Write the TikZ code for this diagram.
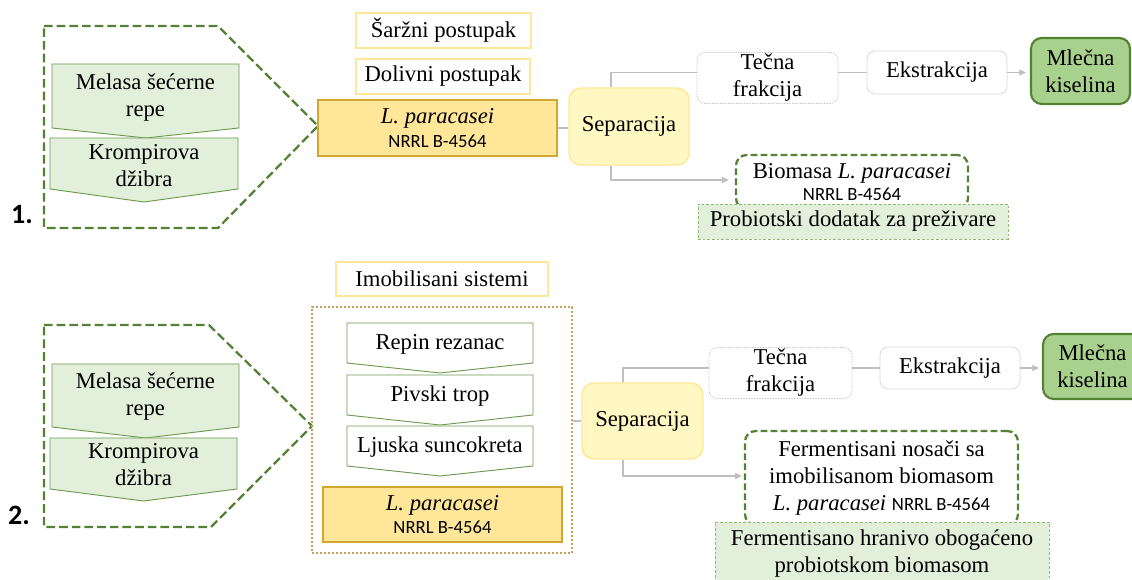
\documentclass[tikz,border=0pt]{standalone}
\usepackage{fontspec}
\setmainfont{Liberation Serif}
\newfontfamily\carlitofont{Carlito}
\usetikzlibrary{arrows.meta}
\definecolor{dkgreen}{HTML}{548235}
\definecolor{chevfill}{HTML}{E2EFDA}
\definecolor{chevline}{HTML}{6E9A50}
\definecolor{goldfill}{HTML}{FFE699}
\definecolor{goldline}{HTML}{D0A830}
\definecolor{paleyel}{HTML}{FFE699}
\definecolor{sepfill}{HTML}{FFF8C2}
\definecolor{connc}{HTML}{BFBFBF}
\definecolor{dotgray}{HTML}{C4C4C4}
\definecolor{ekline}{HTML}{D9D9D9}
\definecolor{mlfill}{HTML}{A9D18E}
\definecolor{probline}{HTML}{8DBA6E}
\definecolor{contline}{HTML}{C4A25E}
\newcommand{\nrrl}{{\carlitofont\fontsize{14}{16}\selectfont NRRL B-4564}}
\tikzset{
  every node/.style={font=\fontsize{17}{20.25}\selectfont, inner sep=0pt, align=center},
  pent/.style={draw=dkgreen, line width=1.7pt, dash pattern=on 6.5pt off 3pt},
  chevg/.style={draw=chevline, line width=0.7pt, fill=chevfill},
  chevw/.style={draw=chevline, line width=0.7pt, fill=white},
  ybox/.style={draw=paleyel, line width=0.9pt, fill=white},
  gbox/.style={draw=goldline, line width=0.8pt, fill=goldfill},
  sepbox/.style={draw=paleyel, line width=1.1pt, fill=sepfill, rounded corners=9pt},
  tecbox/.style={draw=dotgray, line width=0.6pt, dash pattern=on 1pt off 1pt, fill=white, rounded corners=6pt},
  ekbox/.style={draw=ekline, line width=0.6pt, fill=white, rounded corners=6pt},
  mlbox/.style={draw=dkgreen, line width=1.6pt, fill=mlfill, rounded corners=8pt},
  biobox/.style={draw=dkgreen, line width=1.7pt, dash pattern=on 5pt off 2.5pt, fill=white, rounded corners=8pt},
  probbox/.style={draw=probline, line width=0.6pt, dash pattern=on 2pt off 1.5pt, fill=chevfill},
  contbox/.style={draw=contline, line width=0.8pt, dash pattern=on 1.5pt off 1.5pt},
  conn/.style={draw=connc, line width=1pt},
  arr/.style={conn, -{Triangle[length=5pt,width=4.5pt]}},
  numlbl/.style={font=\carlitofont\bfseries\fontsize{21}{24}\selectfont},
}
\begin{document}
\begin{tikzpicture}[x=0.75pt,y=-0.75pt]
\clip (0,0) rectangle (1132,580);
\fill[white] (0,0) rectangle (1132,580);

% ---------------- Section 1 ----------------
\draw[pent] (44,26) -- (218,26) -- (318,126) -- (218,228) -- (44,228) -- cycle;
\draw[chevg] (52,64) -- (239,64) -- (239,128) -- (145.5,138) -- (52,128) -- cycle;
\node (mel1) at (145.5,98) {Melasa šećerne\\repe};
\draw[chevg] (50,138) -- (238,138) -- (238,189) -- (144,202) -- (50,189) -- cycle;
\node (kro1) at (144,166) {Krompirova\\džibra};
\node[numlbl] (n1) at (22,215) {1.};

\node[ybox, minimum width=131.25pt, minimum height=26.25pt] (sarz) at (443.5,30.5) {Šaržni postupak};
\node[ybox, minimum width=130.5pt, minimum height=26.25pt] (doliv) at (443,76.5) {Dolivni postupak};
\node[gbox, minimum width=179.25pt, minimum height=42pt, font=\fontsize{17}{17.5}\selectfont] (lp1) at (437.5,128) {\textit{L. paracasei}\\\nrrl};
\node[sepbox, minimum width=90pt, minimum height=57.75pt] (sep1) at (629,126.5) {Separacija};
\node[tecbox, minimum width=105.75pt, minimum height=38.25pt] (tec1) at (767.5,78) {Tečna\\frakcija};
\node[ekbox, minimum width=105pt, minimum height=32.25pt] (ek1) at (937,72.5) {Ekstrakcija};
\node[mlbox, minimum width=74.25pt, minimum height=49.5pt] (ml1) at (1080.5,71) {Mlečna\\kiselina};
\node[biobox, minimum width=174pt, minimum height=40.5pt, font=\fontsize{17}{16.5}\selectfont] (bio1) at (852,182) {Biomasa \textit{L. paracasei}\\\nrrl};
\node[probbox, minimum width=232.5pt, minimum height=26.25pt] (prob1) at (853,221.5) {Probiotski dodatak za preživare};

\draw[conn] (lp1.east) -- (lp1.east -| sep1.west);
\draw[conn] ([xshift=-13.5pt]sep1.north) |- (ek1.west -| tec1.west);
\draw[conn] (ek1.west -| tec1.east) -- (ek1.west);
\draw[arr] (ek1.east) -- ([xshift=-3pt]ml1.west |- ek1.east);
\draw[arr] ([xshift=-13.5pt]sep1.south) |- ([xshift=-4.5pt]bio1.west |- 0,180);

% ---------------- Section 2 ----------------
\draw[pent] (44,325) -- (209,325) -- (312,426) -- (211,527) -- (44,527) -- cycle;
\draw[chevg] (52,364) -- (239,364) -- (239,427) -- (145.5,438) -- (52,427) -- cycle;
\node (mel2) at (145.5,397) {Melasa šećerne\\repe};
\draw[chevg] (50,438) -- (237,438) -- (237,489) -- (143.5,501) -- (50,489) -- cycle;
\node (kro2) at (143.5,465) {Krompirova\\džibra};
\node[numlbl] (n2) at (19,515) {2.};

\node[ybox, minimum width=159pt, minimum height=25.5pt] (imob) at (442,279) {Imobilisani sistemi};
\node[contbox, minimum width=195pt, minimum height=184.5pt] (cont) at (442,430) {};
\draw[chevw] (347,323) -- (533,323) -- (533,363) -- (440,373) -- (347,363) -- cycle;
\node (rep) at (440,344) {Repin rezanac};
\draw[chevw] (347,375) -- (533,375) -- (533,415) -- (440,425) -- (347,415) -- cycle;
\node (piv) at (440,396) {Pivski trop};
\draw[chevw] (347,426) -- (533,426) -- (533,466) -- (440,476) -- (347,466) -- cycle;
\node (lju) at (440,447) {Ljuska suncokreta};
\node[gbox, minimum width=179.25pt, minimum height=41.25pt, font=\fontsize{17}{17.5}\selectfont] (lp2) at (442.5,514.5) {\textit{L. paracasei}\\\nrrl};

\node[sepbox, minimum width=90.75pt, minimum height=57pt] (sep2) at (642.5,421) {Separacija};
\node[tecbox, minimum width=107.25pt, minimum height=38.25pt] (tec2) at (780.5,373) {Tečna\\frakcija};
\node[ekbox, minimum width=105pt, minimum height=31.5pt] (ek2) at (950,368) {Ekstrakcija};
\node[mlbox, minimum width=74.25pt, minimum height=48.75pt] (ml2) at (1092.5,366.5) {Mlečna\\kiselina};
\node[biobox, minimum width=204.75pt, minimum height=70.5pt] (ferm2) at (881.5,478) {Fermentisani nosači sa\\imobilisanom biomasom\\\textit{L. paracasei} \nrrl};
\node[probbox, minimum width=250.5pt, minimum height=47.25pt] (hran2) at (882,553.5) {Fermentisano hranivo obogaćeno\\probiotskom biomasom};

\draw[conn] (sep2.west -| cont.east) -- (sep2.west);
\draw[conn] ([xshift=-14.6pt]sep2.north) |- (ek2.west -| tec2.west);
\draw[conn] (ek2.west -| tec2.east) -- (ek2.west);
\draw[arr] (ek2.east) -- ([xshift=-2.25pt]ml2.west |- ek2.east);
\draw[arr] ([xshift=-14.6pt]sep2.south) |- ([xshift=-1.5pt]ferm2.west |- 0,476);
\end{tikzpicture}
\end{document}
